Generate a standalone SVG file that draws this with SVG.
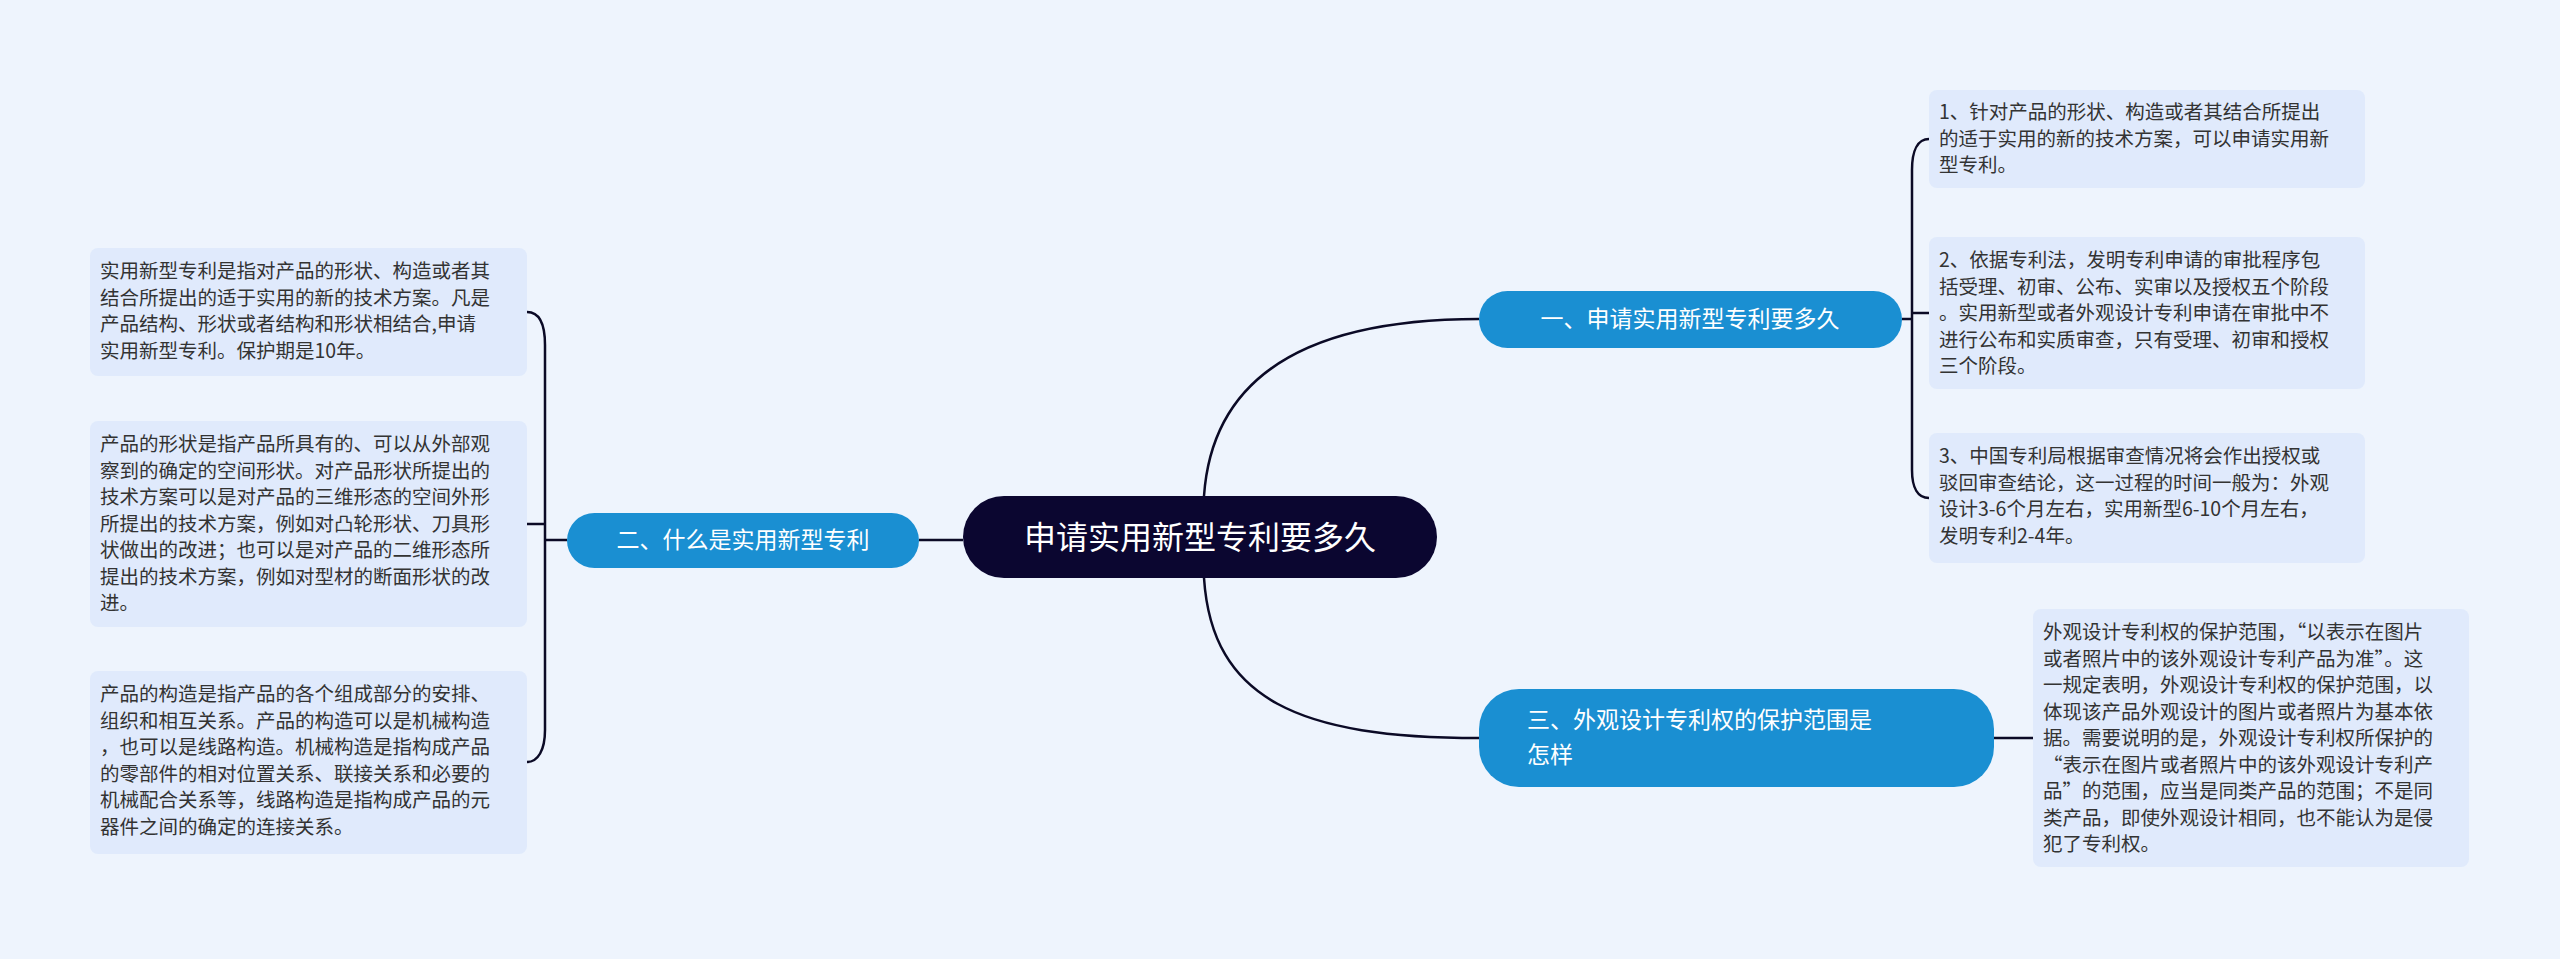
<svg xmlns="http://www.w3.org/2000/svg" width="2560" height="959" viewBox="0 0 2560 959">
<style>
.leaf{fill:#e0eafc}
.lt{font-family:"Noto Sans CJK SC","Noto Sans",sans-serif;font-size:19.5px;fill:#333}
.sub{fill:#1a8fd2}
.st{font-family:"Noto Sans CJK SC","Noto Sans",sans-serif;font-size:23px;fill:#fff}
.ln{fill:none;stroke:#0b0a26;stroke-width:2.5}
</style>
<rect width="2560" height="959" fill="#eef4fd"/>
<g id="connectors">
<path class="ln" d="M919,540 H963"/>
<path class="ln" d="M1204,496 C1212,380 1300,319 1479,319"/>
<path class="ln" d="M1204,578 C1212,700 1300,738 1479,738"/>
<path class="ln" d="M1902,319 H1912"/>
<path class="ln" d="M1929,139 C1918,139 1912,150 1912,170 V470 C1912,488 1918,498 1929,498"/>
<path class="ln" d="M1912,313 H1929"/>
<path class="ln" d="M1994,738 H2033"/>
<path class="ln" d="M567,540 H545"/>
<path class="ln" d="M527,312 C538,312 545,322 545,345 V730 C545,750 538,762 527,762"/>
<path class="ln" d="M545,524 H527"/>
</g>
<g id="center">
<rect x="963" y="496" width="474" height="82" rx="41" fill="#0b0630"/>
<text x="1200" y="549" text-anchor="middle" font-family="Noto Sans CJK SC,sans-serif" font-size="32" fill="#fff">申请实用新型专利要多久</text>
</g>
<g id="n1">
<rect class="sub" x="1479" y="291" width="423" height="57" rx="28.5"/>
<text class="st" x="1690" y="327" text-anchor="middle">一、申请实用新型专利要多久</text>
</g>
<g id="n2">
<rect class="sub" x="567" y="513" width="352" height="55" rx="27.5"/>
<text class="st" x="743" y="548" text-anchor="middle">二、什么是实用新型专利</text>
</g>
<g id="n3">
<rect class="sub" x="1479" y="689" width="515" height="98" rx="40"/>
<text class="st" x="1527" y="728">三、外观设计专利权的保护范围是</text>
<text class="st" x="1527" y="763">怎样</text>
</g>
<g id="r1">
<rect class="leaf" x="1929" y="90" width="436" height="98" rx="8"/>
<text class="lt"><tspan x="1939" y="119">1、针对产品的形状、构造或者其结合所提出</tspan><tspan x="1939" y="145.5">的适于实用的新的技术方案，可以申请实用新</tspan><tspan x="1939" y="172">型专利。</tspan></text>
</g>
<g id="r2">
<rect class="leaf" x="1929" y="237" width="436" height="152" rx="8"/>
<text class="lt"><tspan x="1939" y="267">2、依据专利法，发明专利申请的审批程序包</tspan><tspan x="1939" y="293.5">括受理、初审、公布、实审以及授权五个阶段</tspan><tspan x="1939" y="320">。实用新型或者外观设计专利申请在审批中不</tspan><tspan x="1939" y="346.5">进行公布和实质审查，只有受理、初审和授权</tspan><tspan x="1939" y="373">三个阶段。</tspan></text>
</g>
<g id="r3">
<rect class="leaf" x="1929" y="433" width="436" height="130" rx="8"/>
<text class="lt"><tspan x="1939" y="463">3、中国专利局根据审查情况将会作出授权或</tspan><tspan x="1939" y="489.5">驳回审查结论，这一过程的时间一般为：外观</tspan><tspan x="1939" y="516">设计3-6个月左右，实用新型6-10个月左右，</tspan><tspan x="1939" y="542.5">发明专利2-4年。</tspan></text>
</g>
<g id="r4">
<rect class="leaf" x="2033" y="609" width="436" height="258" rx="8"/>
<text class="lt"><tspan x="2043" y="639">外观设计专利权的保护范围，“以表示在图片</tspan><tspan x="2043" y="665.5">或者照片中的该外观设计专利产品为准”。这</tspan><tspan x="2043" y="692">一规定表明，外观设计专利权的保护范围，以</tspan><tspan x="2043" y="718.5">体现该产品外观设计的图片或者照片为基本依</tspan><tspan x="2043" y="745">据。需要说明的是，外观设计专利权所保护的</tspan><tspan x="2043" y="771.5">“表示在图片或者照片中的该外观设计专利产</tspan><tspan x="2043" y="798">品”的范围，应当是同类产品的范围；不是同</tspan><tspan x="2043" y="824.5">类产品，即使外观设计相同，也不能认为是侵</tspan><tspan x="2043" y="851">犯了专利权。</tspan></text>
</g>
<g id="l1">
<rect class="leaf" x="90" y="248" width="437" height="128" rx="8"/>
<text class="lt"><tspan x="100" y="278">实用新型专利是指对产品的形状、构造或者其</tspan><tspan x="100" y="304.5">结合所提出的适于实用的新的技术方案。凡是</tspan><tspan x="100" y="331">产品结构、形状或者结构和形状相结合,申请</tspan><tspan x="100" y="357.5">实用新型专利。保护期是10年。</tspan></text>
</g>
<g id="l2">
<rect class="leaf" x="90" y="421" width="437" height="206" rx="8"/>
<text class="lt"><tspan x="100" y="451">产品的形状是指产品所具有的、可以从外部观</tspan><tspan x="100" y="477.5">察到的确定的空间形状。对产品形状所提出的</tspan><tspan x="100" y="504">技术方案可以是对产品的三维形态的空间外形</tspan><tspan x="100" y="530.5">所提出的技术方案，例如对凸轮形状、刀具形</tspan><tspan x="100" y="557">状做出的改进；也可以是对产品的二维形态所</tspan><tspan x="100" y="583.5">提出的技术方案，例如对型材的断面形状的改</tspan><tspan x="100" y="610">进。</tspan></text>
</g>
<g id="l3">
<rect class="leaf" x="90" y="671" width="437" height="183" rx="8"/>
<text class="lt"><tspan x="100" y="701">产品的构造是指产品的各个组成部分的安排、</tspan><tspan x="100" y="727.5">组织和相互关系。产品的构造可以是机械构造</tspan><tspan x="100" y="754">，也可以是线路构造。机械构造是指构成产品</tspan><tspan x="100" y="780.5">的零部件的相对位置关系、联接关系和必要的</tspan><tspan x="100" y="807">机械配合关系等，线路构造是指构成产品的元</tspan><tspan x="100" y="833.5">器件之间的确定的连接关系。</tspan></text>
</g>
</svg>
